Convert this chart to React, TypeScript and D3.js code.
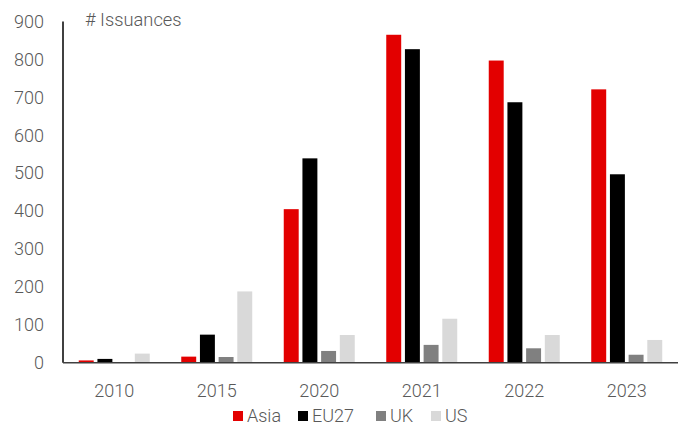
import React from "react";
import * as d3 from "d3";

const categories = ["2010", "2015", "2020", "2021", "2022", "2023"];
const seriesNames = ["Asia", "EU27", "UK", "US"];
const asia = [6, 16, 405, 865, 797, 721];
const eu27 = [10, 74, 539, 827, 687, 497];
const uk = [0, 15, 31, 47, 38, 21];
const us = [24, 188, 73, 116, 73, 60];
const yTicks = [0, 100, 200, 300, 400, 500, 600, 700, 800, 900];
const colors = ["#E30000", "#000000", "#808080", "#D9D9D9"];

const W = 680;
const H = 428;
const left = 63;
const right = 678;
const top = 21.5;
const bottom = 362.7;

export default function App() {
  const values = [asia, eu27, uk, us];
  const x = d3.scaleBand<string>().domain(categories).range([left, right]).padding(0);
  const inner = d3.scaleBand<string>().domain(seriesNames).range([-35.5, 35.5]).paddingInner(0.2).paddingOuter(0);
  const y = d3.scaleLinear().domain([0, 900]).range([bottom, top]);
  const font = "Roboto, 'Noto Sans', sans-serif";
  const textColor = "#595959";
  const legendX = [233, 298, 376, 431];

  return (
    <svg width={W} height={H} style={{ position: "absolute", left: 0, top: 0, display: "block", background: "#fff" }}>
      {/* y tick labels */}
      {yTicks.map((t) => (
        <text key={t} x={44} y={y(t)} dy="0.35em" textAnchor="end" fontFamily={font} fontWeight={300} fontSize={18} fill={textColor}>
          {t}
        </text>
      ))}
      <text x={85} y={26} fontFamily={font} fontWeight={300} fontSize={18.3} fill={textColor}>
        # Issuances
      </text>
      {/* bars */}
      {categories.map((c, ci) => {
        const cx = (x(c) as number) + x.bandwidth() / 2;
        return seriesNames.map((s, si) => {
          const v = values[si][ci];
          if (v <= 0) return null;
          const bx = cx + (inner(s) as number);
          return (
            <rect key={c + s} x={bx} y={y(v)} width={inner.bandwidth()} height={y(0) - y(v)} fill={colors[si]} />
          );
        });
      })}
      {/* axes */}
      <line x1={left} x2={left} y1={top} y2={bottom} stroke="#000" strokeWidth={1.5} />
      <line x1={left} x2={right} y1={bottom} y2={bottom} stroke="#404040" strokeWidth={1.5} />
      {/* x labels */}
      {categories.map((c) => (
        <text key={c} x={(x(c) as number) + x.bandwidth() / 2} y={396.5} textAnchor="middle" fontFamily={font} fontWeight={300} fontSize={18} fill={textColor}>
          {c}
        </text>
      ))}
      {/* legend */}
      {seriesNames.map((s, i) => (
        <g key={s}>
          <rect x={legendX[i]} y={411} width={10} height={10} fill={colors[i]} />
          <text x={legendX[i] + 14} y={421.5} fontFamily={font} fontWeight={300} fontSize={18} fill={textColor}>
            {s}
          </text>
        </g>
      ))}
    </svg>
  );
}
